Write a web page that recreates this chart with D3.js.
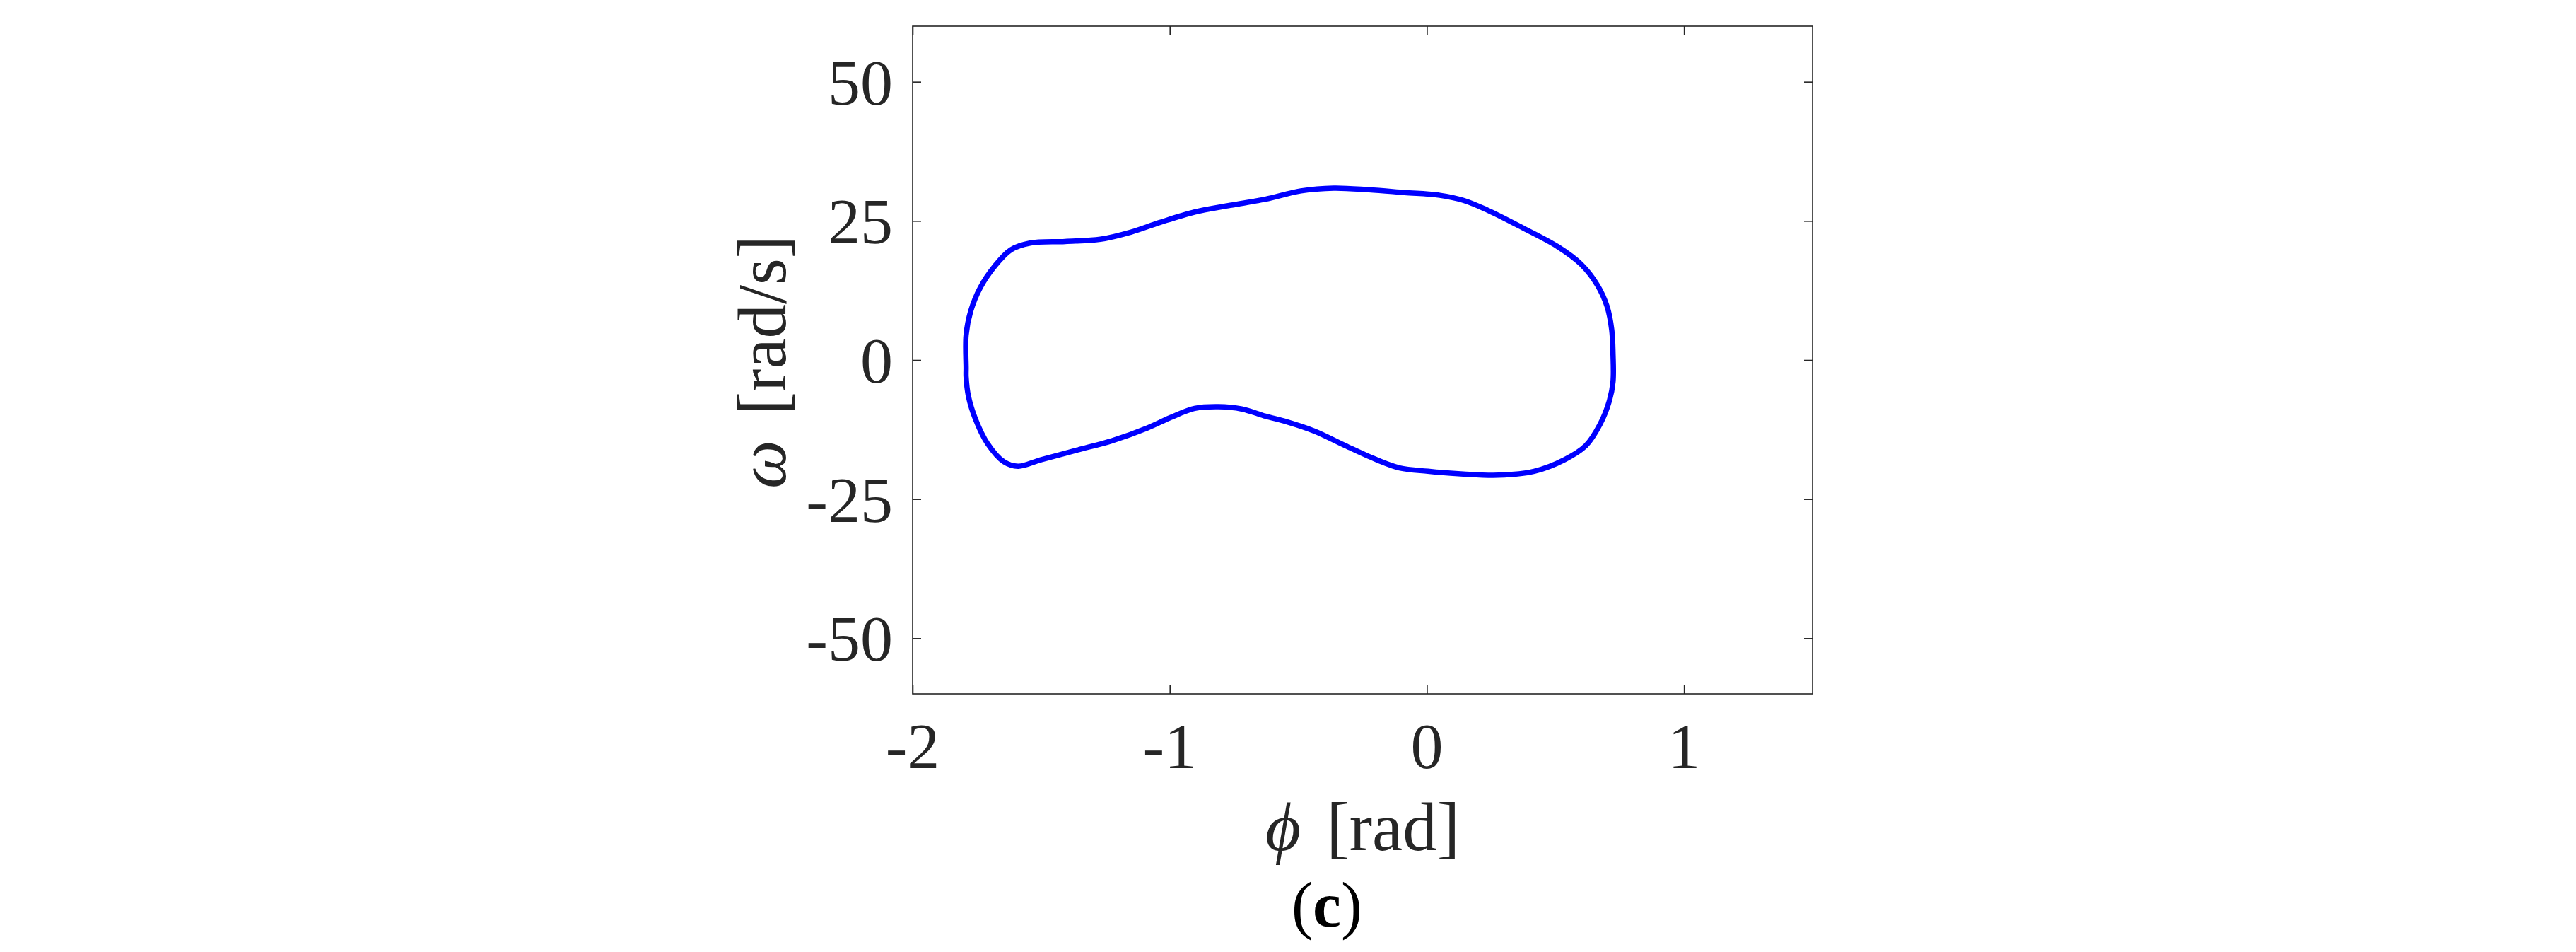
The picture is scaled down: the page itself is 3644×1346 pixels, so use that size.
<!DOCTYPE html>
<html>
<head>
<meta charset="utf-8">
<script src="https://cdn.jsdelivr.net/npm/d3@7"></script>
<style>
  body { margin: 0; background: #fff; }
  text { font-family: "Liberation Serif", "Times New Roman", "DejaVu Serif", serif; fill: #262626; }
</style>
</head>
<body>
<div id="chart"></div>
<script>
// phase portrait (c): phi [rad] vs omega [rad/s], clockwise from the left edge
var phi = [-1.792, -1.792, -1.774, -1.737, -1.682, -1.618, -1.544, -1.407, -1.270, -1.150,
           -1.040, -0.903, -0.765, -0.628, -0.490, -0.362, -0.225, -0.087, 0.050, 0.142,
           0.233, 0.371, 0.508, 0.600, 0.664, 0.701, 0.719, 0.724, 0.724, 0.710,
           0.673, 0.618, 0.536, 0.417, 0.279, 0.142, 0.004, -0.106, -0.197, -0.317,
           -0.436, -0.545, -0.628, -0.720, -0.811, -0.903, -0.995, -1.086, -1.224, -1.361,
           -1.499, -1.590, -1.645, -1.709, -1.755, -1.783, -1.792];
var omega = [-1.5, 4.5, 8.8, 13.0, 16.8, 19.8, 21.0, 21.3, 21.7, 23.0,
             24.7, 26.6, 27.8, 28.9, 30.4, 30.9, 30.6, 30.1, 29.6, 28.7,
             27.0, 23.8, 20.4, 17.2, 13.4, 9.6, 5.4, 1.0, -3.9, -7.3,
             -11.6, -15.4, -17.9, -20.0, -20.7, -20.5, -20.0, -19.4, -17.9, -15.4,
             -12.8, -11.1, -10.1, -8.8, -8.4, -8.7, -10.3, -12.2, -14.5, -16.2,
             -17.9, -19.1, -18.3, -15.0, -10.7, -6.5, -3.0];

var xTicks = [-2, -1, 0, 1];
var yTicks = [-50, -25, 0, 25, 50];
var xDomain = [-2, 1.5];
var yDomain = [-60, 60];

var W = 3644, H = 1346;
var boxL = 1291, boxR = 2564, boxT = 37, boxB = 981;
var tickLen = 12;

var svg = d3.select("#chart").append("svg")
    .attr("width", W)
    .attr("height", H);

var x = d3.scaleLinear().domain(xDomain).range([boxL, boxR]);
var y = d3.scaleLinear().domain(yDomain).range([boxB, boxT]);

// box
svg.append("rect")
    .attr("x", boxL).attr("y", boxT)
    .attr("width", boxR - boxL).attr("height", boxB - boxT)
    .attr("fill", "none")
    .attr("stroke", "#262626")
    .attr("stroke-width", 1.6);

// ticks pointing inward on all four sides
function drawTicks(g) {
    g.selectAll("path.domain").remove();
    g.selectAll("line").attr("stroke", "#262626").attr("stroke-width", 1.6);
    g.selectAll("text").remove();
}
svg.append("g").attr("transform", "translate(0," + boxB + ")")
    .call(d3.axisBottom(x).tickValues(xTicks).tickSize(-tickLen)).call(drawTicks);
svg.append("g").attr("transform", "translate(0," + boxT + ")")
    .call(d3.axisTop(x).tickValues(xTicks).tickSize(-tickLen)).call(drawTicks);
svg.append("g").attr("transform", "translate(" + boxL + ",0)")
    .call(d3.axisLeft(y).tickValues(yTicks).tickSize(-tickLen)).call(drawTicks);
svg.append("g").attr("transform", "translate(" + boxR + ",0)")
    .call(d3.axisRight(y).tickValues(yTicks).tickSize(-tickLen)).call(drawTicks);

// tick labels
svg.selectAll("text.xt")
    .data(xTicks)
    .enter()
    .append("text")
    .attr("class", "xt")
    .attr("x", function(d){ return x(d); })
    .attr("y", 1086)
    .attr("text-anchor", "middle")
    .attr("font-size", 92)
    .text(function(d){ return d; });

svg.selectAll("text.yt")
    .data(yTicks)
    .enter()
    .append("text")
    .attr("class", "yt")
    .attr("x", boxL - 28)
    .attr("y", function(d){ return y(d) + 32; })
    .attr("text-anchor", "end")
    .attr("font-size", 92)
    .text(function(d){ return d; });

// axis labels
var xl = svg.append("text")
    .attr("x", (boxL + boxR) / 2)
    .attr("y", 1202)
    .attr("text-anchor", "middle")
    .attr("font-size", 97);
xl.append("tspan").attr("font-style", "italic").text("ϕ");
xl.append("tspan").attr("dx", 12).text(" [rad]");

var yl = svg.append("text")
    .attr("transform", "translate(1111,512) rotate(-90)")
    .attr("text-anchor", "middle")
    .attr("font-size", 97);
yl.append("tspan").attr("font-style", "italic").text("ω");
yl.append("tspan").attr("dx", 12).text(" [rad/s]");

// panel tag: plain parentheses, bold letter
var tag = svg.append("text")
    .attr("x", 1877)
    .attr("y", 1310)
    .attr("text-anchor", "middle")
    .attr("font-size", 90)
    .style("fill", "#000");
tag.append("tspan").text("(");
tag.append("tspan").attr("font-weight", "bold").text("c");
tag.append("tspan").text(")");

// the closed trajectory
var pts = d3.range(phi.length).map(function(i){ return [phi[i], omega[i]]; });
var line = d3.line()
    .x(function(d){ return x(d[0]); })
    .y(function(d){ return y(d[1]); })
    .curve(d3.curveCatmullRomClosed.alpha(0.5));

svg.append("path")
    .datum(pts)
    .attr("d", line)
    .attr("fill", "none")
    .attr("stroke", "#0000ff")
    .attr("stroke-width", 7.5)
    .attr("stroke-linejoin", "round");
</script>
</body>
</html>
